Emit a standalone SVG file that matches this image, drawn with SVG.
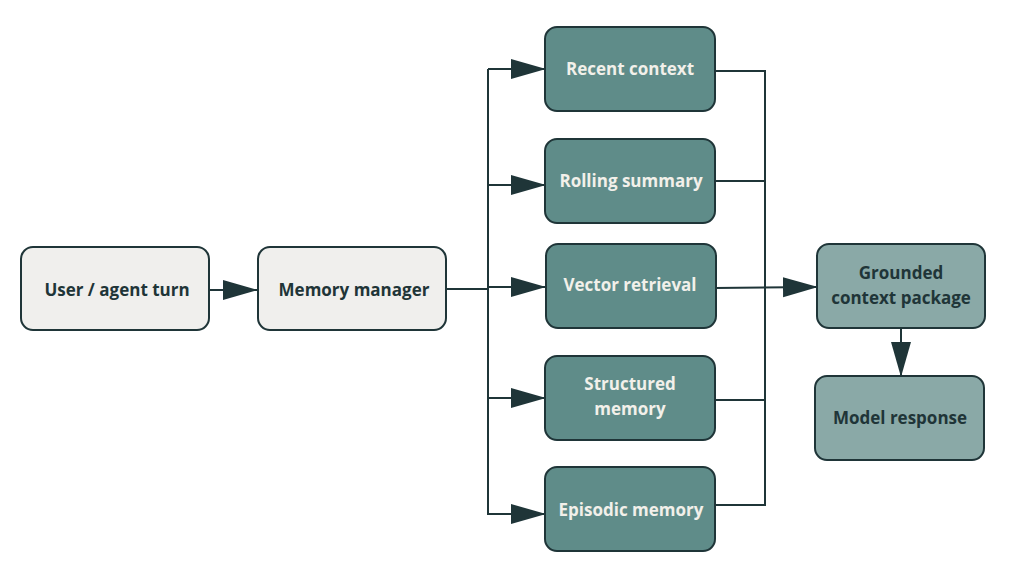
<svg xmlns="http://www.w3.org/2000/svg" width="1024" height="579" viewBox="0 0 1024 579">
<style>
.n rect{stroke:#1f3538;stroke-width:2}
.l rect{fill:#f0efed}
.t rect{fill:#5f8c89}
.g rect{fill:#8aa9a7}
text{font-family:"Open Sans","Liberation Sans",sans-serif;font-weight:bold;font-size:17px;text-anchor:middle}
.l text,.g text{fill:#1f3538}
.t text{fill:#f2f0ea}
#edges path{fill:none;stroke:#1f3538;stroke-width:2}
</style>
<defs>
<marker id="a" markerWidth="36" markerHeight="22" refX="34" refY="11" orient="auto" markerUnits="userSpaceOnUse">
<path d="M0,1 L35,11 L0,21 Z" fill="#1f3538"/>
</marker>
</defs>
<rect width="1024" height="579" fill="#fff"/>
<g id="edges">
<path d="M209,290 H257" marker-end="url(#a)"/>
<path d="M446,289 H488"/>
<path d="M488,69 V515"/>
<path d="M488,69 H545" marker-end="url(#a)"/>
<path d="M488,185 H545" marker-end="url(#a)"/>
<path d="M488,287 H545" marker-end="url(#a)"/>
<path d="M488,398 H545" marker-end="url(#a)"/>
<path d="M488,514 H545" marker-end="url(#a)"/>
<path d="M715,71 H765 V505 H715"/>
<path d="M715,181 H765"/>
<path d="M715,400 H765"/>
<path d="M715,288 L817,287" marker-end="url(#a)"/>
<path d="M901,328 V376" marker-end="url(#a)"/>
</g>
<g id="user" class="n l"><rect x="21" y="247" width="188" height="83" rx="12"/><text x="117" y="296">User / agent turn</text></g>
<g id="manager" class="n l"><rect x="258" y="247" width="188" height="83" rx="12"/><text x="354" y="296">Memory manager</text></g>
<g id="recent" class="n t"><rect x="545" y="27" width="170" height="84" rx="12"/><text x="630" y="75">Recent context</text></g>
<g id="rolling" class="n t"><rect x="545" y="139" width="170" height="84" rx="12"/><text x="631" y="187">Rolling summary</text></g>
<g id="vector" class="n t"><rect x="546" y="244" width="170" height="84" rx="12"/><text x="630" y="291">Vector retrieval</text></g>
<g id="structured" class="n t"><rect x="545" y="356" width="170" height="84" rx="12"/><text x="630" y="390">Structured</text><text x="630" y="415">memory</text></g>
<g id="episodic" class="n t"><rect x="545" y="467" width="170" height="84" rx="12"/><text x="631" y="516">Episodic memory</text></g>
<g id="grounded" class="n g"><rect x="817" y="244" width="168" height="84" rx="12"/><text x="901" y="279">Grounded</text><text x="901" y="304">context package</text></g>
<g id="response" class="n g"><rect x="815" y="376" width="169" height="84" rx="12"/><text x="900" y="424">Model response</text></g>
</svg>
